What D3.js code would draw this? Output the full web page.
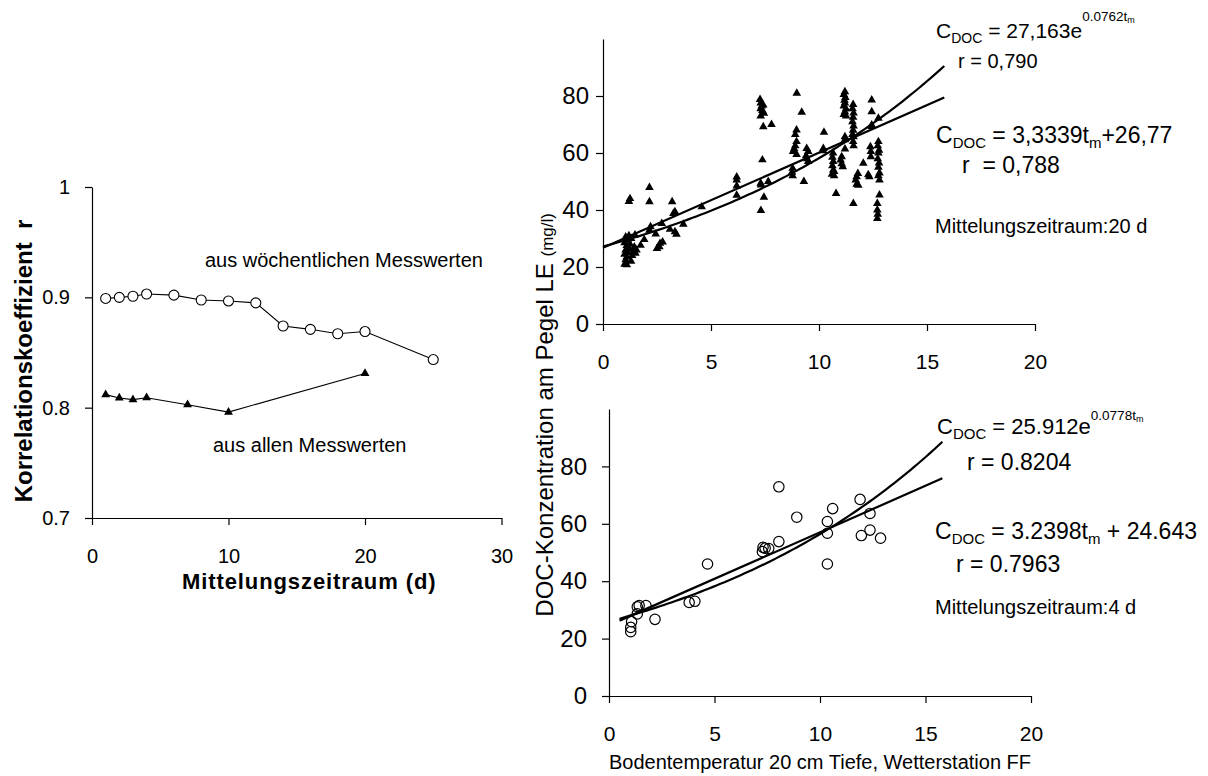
<!DOCTYPE html>
<html>
<head>
<meta charset="utf-8">
<script src="https://cdn.jsdelivr.net/npm/d3@7"></script>
<style>
  body { margin: 0; background: #fff; }
  svg { display: block; }
  text { font-family: "Liberation Sans", Arial, Helvetica, sans-serif; fill: #000; }
</style>
</head>
<body>
<svg id="chart" width="1208" height="776"></svg>
<script>
// ---- Correlation coefficient vs. averaging period ----
const periodWeekly = [1, 2, 3, 4, 6, 8, 10, 12, 14, 16, 18, 20, 25];
const rWeekly = [0.899, 0.900, 0.901, 0.903, 0.902, 0.8976, 0.8967, 0.895, 0.874, 0.871, 0.867, 0.869, 0.8436];
const periodAll = [1, 2, 3, 4, 7, 10, 20];
const rAll = [0.8118, 0.8088, 0.8073, 0.809, 0.8027, 0.796, 0.831];
const corrTicksX = [0, 10, 20, 30];
const corrTicksY = [0.7, 0.8, 0.9, 1];

// ---- DOC vs. soil temperature, 20 d averaging (all measurements) ----
const doc20 = [
  [1.0,21.0],[1.05,22.5],[1.1,23.5],[1.0,24.5],[1.15,25.0],[1.05,26.0],[1.2,26.5],[1.1,27.5],
  [1.25,28.0],[1.0,28.5],[1.15,29.5],[1.3,30.0],[1.05,30.5],[1.2,31.0],[1.35,24.0],[1.4,25.5],
  [1.45,27.0],[1.3,22.0],[1.1,20.8],[1.2,43.0],[1.25,44.0],[1.48,31.2],[1.5,24.8],[1.55,26.0],
  [1.74,27.6],[1.91,29.6],[2.15,47.9],[2.15,42.9],[2.15,32.9],[2.2,34.1],[2.44,31.6],[2.61,27.1],
  [2.64,28.3],[2.76,28.8],[2.5,26.5],[2.72,35.3],[3.1,33.2],[3.2,42.9],[3.26,38.8],[3.33,39.4],
  [3.33,32.4],[3.4,31.5],[3.72,35.0],[4.57,41.1],
  [6.19,51.6],[6.19,50.5],[6.19,48.4],[6.19,45.2],
  [7.27,78.8],[7.3,77.5],[7.35,76.5],[7.42,76.8],[7.3,75.5],[7.38,74.9],[7.45,73.9],[7.3,73.0],
  [7.42,69.2],[7.8,70.0],[7.38,57.6],[7.31,48.8],[7.3,49.4],[7.45,44.5],[7.31,39.8],[7.65,50.0],
  [8.97,81.0],[9.2,74.3],[8.96,68.1],[8.9,66.5],[8.96,64.0],[8.9,62.5],[8.8,60.5],[8.96,59.5],
  [8.85,61.5],[9.43,61.6],[9.5,60.5],[9.4,59.0],[9.5,57.0],[9.45,58.0],[8.78,54.6],[8.78,52.0],
  [8.75,53.2],[9.3,50.0],
  [10.23,67.3],[10.2,60.8],[10.2,61.6],
  [10.65,60.0],[10.62,58.5],[10.66,57.0],[10.62,55.5],[10.66,54.0],[10.6,52.5],[10.7,53.5],
  [10.79,45.8],[10.7,52.0],
  [11.05,58.7],[11.0,57.5],[11.05,56.2],[11.1,55.2],
  [11.2,81.5],[11.15,80.5],[11.22,79.5],[11.18,78.5],[11.2,77.5],[11.15,76.5],[11.25,75.5],
  [11.2,74.5],[11.15,73.5],[11.25,73.0],[11.2,65.7],[11.2,64.6],[11.2,61.4],
  [11.58,77.0],[11.55,75.5],[11.6,74.0],[11.58,72.5],[11.55,71.0],[11.6,69.5],[11.58,68.0],
  [11.55,66.5],[11.6,65.7],[11.58,64.0],[11.6,62.5],[11.59,42.3],[11.74,51.7],[11.7,50.5],
  [11.74,49.0],[11.8,52.8],[11.82,48.7],
  [12.05,56.4],[12.28,52.4],[12.33,51.7],[12.38,62.2],[12.4,60.5],[12.4,58.7],[12.44,78.6],
  [12.44,74.5],[12.44,69.8],[12.44,69.3],
  [12.75,72.2],[12.75,64.0],[12.72,62.5],[12.78,61.0],[12.75,60.0],[12.72,58.0],[12.78,56.5],
  [12.75,55.0],[12.8,53.0],[12.75,52.0],[12.8,50.5],[12.8,45.3],[12.7,42.3],[12.7,40.0],
  [12.72,38.5],[12.7,37.0]
];
// regression: C = a*t + b and C = c*exp(k*t)
const fit20Lin = { a: 3.3339, b: 26.77 };
const fit20Exp = { c: 27.163, k: 0.0762 };
const fit20Range = [0, 15.8];

// ---- DOC vs. soil temperature, 4 d averaging (weekly measurements) ----
const doc4 = [
  [1.03,22.4],[1.03,23.9],[1.07,25.9],[1.34,28.6],[1.34,31.1],[1.43,31.5],[1.75,31.5],[2.18,26.7],
  [3.8,32.6],[4.07,33.0],[4.67,46.0],[7.27,50.3],[7.3,51.8],[7.4,51.5],[7.57,51.4],[8.05,53.8],
  [8.05,72.9],[8.9,62.3],[10.35,60.8],[10.35,56.7],[10.35,46.0],[10.6,65.3],[11.9,68.5],
  [11.96,55.9],[12.37,63.6],[12.37,57.8],[12.87,55.0]
];
const fit4Lin = { a: 3.2398, b: 24.643 };
const fit4Exp = { c: 25.912, k: 0.0778 };
const fit4Range = [0.5, 15.8];

const docTicksX = [0, 5, 10, 15, 20];
const docTicksY = [0, 20, 40, 60, 80];

const svg = d3.select("#chart");

// ================= left panel =================
const xC = d3.scaleLinear().domain([0, 30]).range([92, 501.5]);
const yC = d3.scaleLinear().domain([0.7, 1]).range([518, 187]);

const gLY = svg.append("g").attr("transform", `translate(${xC(0)},0)`)
  .call(d3.axisLeft(yC).tickValues(corrTicksY).tickFormat(d => d === 1 ? "1" : d3.format(".1f")(d))
    .tickSize(7).tickSizeOuter(0).tickPadding(15));
const gLX = svg.append("g").attr("transform", `translate(0,${yC(0.7)})`)
  .call(d3.axisBottom(xC).tickValues(corrTicksX).tickSize(7).tickSizeOuter(0));
[gLY, gLX].forEach(g => {
  g.selectAll("path,line").attr("stroke", "#000").attr("stroke-width", 1.2);
  g.selectAll("text").style("font-size", "20px");
  g.attr("font-family", null).attr("font-size", null);
});
gLX.selectAll("text").attr("y", 45).attr("dy", 0);

const lineC = d3.line().x(d => xC(d[0])).y(d => yC(d[1]));
const weekly = d3.zip(periodWeekly, rWeekly);
const all = d3.zip(periodAll, rAll);

svg.append("path").datum(weekly).attr("d", lineC)
  .attr("fill", "none").attr("stroke", "#000").attr("stroke-width", 1.1);
svg.append("path").datum(all).attr("d", lineC)
  .attr("fill", "none").attr("stroke", "#000").attr("stroke-width", 1.1);

svg.append("g").selectAll("circle").data(weekly).join("circle")
  .attr("cx", d => xC(d[0])).attr("cy", d => yC(d[1])).attr("r", 5)
  .attr("fill", "#fff").attr("stroke", "#000").attr("stroke-width", 1.1);
const triSmall = d3.symbol().type(d3.symbolTriangle).size(34);
svg.append("g").selectAll("path").data(all).join("path")
  .attr("transform", d => `translate(${xC(d[0])},${yC(d[1])})`)
  .attr("d", triSmall).attr("fill", "#000");

svg.append("text").attr("x", 205).attr("y", 267).style("font-size", "20px")
  .text("aus wöchentlichen Messwerten");
svg.append("text").attr("x", 213).attr("y", 452).style("font-size", "20px")
  .text("aus allen Messwerten");

svg.append("text").attr("transform", "translate(32,361) rotate(-90)")
  .attr("text-anchor", "middle").style("font-size", "24px").style("font-weight", "bold")
  .style("white-space", "pre").text("Korrelationskoeffizient  r");
svg.append("text").attr("x", 182).attr("y", 589)
  .style("font-size", "22px").style("font-weight", "bold").style("letter-spacing", "0.9px")
  .text("Mittelungszeitraum (d)");

// ================= right panels =================
function docPanel(opts) {
  const { x0, x1, y0, y1, pts, lin, ex, range, marker, yPad } = opts;
  const x = d3.scaleLinear().domain([0, 20]).range([x0, x1]);
  const y = d3.scaleLinear().domain([0, 100]).range([y0, y1]);

  const gy = svg.append("g").attr("transform", `translate(${x0},0)`)
    .call(d3.axisLeft(y).tickValues(docTicksY).tickSize(7).tickSizeOuter(0).tickPadding(yPad));
  const gx = svg.append("g").attr("transform", `translate(0,${y0})`)
    .call(d3.axisBottom(x).tickValues(docTicksX).tickSize(7).tickSizeOuter(0));
  [gy, gx].forEach(g => {
    g.selectAll("path,line").attr("stroke", "#000").attr("stroke-width", 1.2);
    g.attr("font-family", null).attr("font-size", null);
  });
  gy.selectAll("text").style("font-size", "24px");
  gx.selectAll("text").style("font-size", "21px").attr("y", 45).attr("dy", 0);

  // fitted curves
  const samples = d3.range(range[0], range[1] + 1e-9, (range[1] - range[0]) / 80);
  const curve = d3.line().x(t => x(t)).y(t => y(ex.c * Math.exp(ex.k * t)));
  svg.append("path").datum(samples).attr("d", curve)
    .attr("fill", "none").attr("stroke", "#000").attr("stroke-width", 2.2);
  svg.append("line")
    .attr("x1", x(range[0])).attr("y1", y(lin.a * range[0] + lin.b))
    .attr("x2", x(range[1])).attr("y2", y(lin.a * range[1] + lin.b))
    .attr("stroke", "#000").attr("stroke-width", 2.2);

  const g = svg.append("g");
  if (marker === "triangle") {
    const tri = d3.symbol().type(d3.symbolTriangle).size(32);
    g.selectAll("path").data(pts).join("path")
      .attr("transform", d => `translate(${x(d[0])},${y(d[1])})`)
      .attr("d", tri).attr("fill", "#000");
  } else {
    g.selectAll("circle").data(pts).join("circle")
      .attr("cx", d => x(d[0])).attr("cy", d => y(d[1])).attr("r", 5.2)
      .attr("fill", "none").attr("stroke", "#000").attr("stroke-width", 1.2);
  }
}

docPanel({ x0: 603, x1: 1035, y0: 324, y1: 39, pts: doc20,
  lin: fit20Lin, ex: fit20Exp, range: fit20Range, marker: "triangle", yPad: 7 });
docPanel({ x0: 609, x1: 1031, y0: 696, y1: 409, pts: doc4,
  lin: fit4Lin, ex: fit4Exp, range: fit4Range, marker: "circle", yPad: 15 });

// shared y title, unit in a smaller size
const yTitle = svg.append("text").attr("transform", "translate(553,213) rotate(-90)")
  .attr("text-anchor", "end").style("font-size", "24px").style("white-space", "pre");
yTitle.append("tspan").text("DOC-Konzentration am Pegel LE ");
yTitle.append("tspan").style("font-size", "17px").text("(mg/l)");

svg.append("text").attr("x", 820).attr("y", 769).attr("text-anchor", "middle")
  .style("font-size", "20px").text("Bodentemperatur 20 cm Tiefe, Wetterstation FF");

// equation labels: C with subscript DOC
function eqC(x, y, size, parts) {
  const t = svg.append("text").attr("x", x).attr("y", y).style("font-size", size + "px")
    .style("white-space", "pre");
  parts.forEach(p => {
    const s = t.append("tspan").text(p.text);
    if (p.size) s.style("font-size", p.size + "px");
    if (p.dy) s.attr("dy", p.dy);
  });
  return t;
}
function subDOC(size) { return [{ text: "C" }, { text: "DOC", size: Math.round(size * 0.66), dy: size * 0.22 }]; }

// top panel
eqC(936, 38, 21, [...subDOC(21), { text: " = 27,163e", dy: -21 * 0.22 },
  { text: "0.0762t", size: 13.5, dy: -17 }, { text: "m", size: 9, dy: 2 }]);
eqC(958, 68, 20, [{ text: "r = 0,790" }]);
eqC(936, 143, 23, [...subDOC(23), { text: " = 3,3339t", dy: -23 * 0.22 },
  { text: "m", size: 15, dy: 23 * 0.22 }, { text: "+26,77", dy: -23 * 0.22 }]);
eqC(962, 173, 23, [{ text: "r  = 0,788" }]);
eqC(935, 233, 20, [{ text: "Mittelungszeitraum:20 d" }]);

// bottom panel
eqC(937, 434, 22, [...subDOC(22), { text: " = 25.912e", dy: -22 * 0.22 },
  { text: "0.0778t", size: 13.5, dy: -14 }, { text: "m", size: 9, dy: 2 }]);
eqC(967, 470, 23, [{ text: "r = 0.8204" }]);
eqC(935, 539, 23, [...subDOC(23), { text: " = 3.2398t", dy: -23 * 0.22 },
  { text: "m", size: 15, dy: 23 * 0.22 }, { text: " + 24.643", dy: -23 * 0.22 }]);
eqC(956, 572, 23, [{ text: "r = 0.7963" }]);
eqC(935, 614, 20, [{ text: "Mittelungszeitraum:4 d" }]);
</script>
</body>
</html>
